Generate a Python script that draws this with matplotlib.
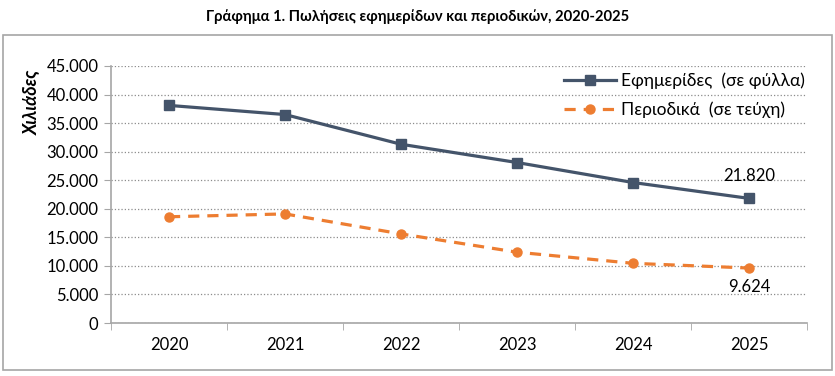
import matplotlib.pyplot as plt
from matplotlib.patches import Rectangle
from matplotlib.ticker import FuncFormatter, FixedLocator

plt.rcParams['font.family'] = ['Lato', 'DejaVu Sans']

years = ['2020', '2021', '2022', '2023', '2024', '2025']
newspapers = [38100, 36500, 31300, 28100, 24600, 21820]
periodicals = [18600, 19100, 15600, 12400, 10450, 9624]
labels = ['Εφημερίδες  (σε φύλλα)', 'Περιοδικά  (σε τεύχη)']

navy = '#44546A'
orange = '#ED7D31'

fig = plt.figure(figsize=(8.35, 3.76), dpi=100)
fig.patches.append(Rectangle((3/835, 1-370/376), 829/835, 335/376, transform=fig.transFigure,
                             fill=False, edgecolor='#A6A6A6', lw=1.2))
ax = fig.add_axes([111/835, 1-323/376, 696/835, 257/376])

x = range(len(years))
ax.plot(x, newspapers, color=navy, lw=2.3, marker='s', ms=6.5, label=labels[0])
ax.plot(x, periodicals, color=orange, lw=2.3, ls=(0, (3.5, 2.5)), marker='o', ms=6.5, label=labels[1])

ax.set_xlim(-0.5, 5.5)
ax.set_ylim(0, 45000)
ax.set_yticks(range(0, 45001, 5000))
ax.yaxis.set_major_formatter(FuncFormatter(lambda v, p: f'{int(v):,}'.replace(',', '.')))
ax.set_xticks(list(x))
ax.set_xticklabels(years)
ax.xaxis.set_minor_locator(FixedLocator([i - 0.5 for i in range(len(years) + 1)]))
ax.tick_params(axis='x', which='major', length=0, pad=10, labelsize=12)
ax.tick_params(axis='x', which='minor', length=5, color='#A6A6A6')
ax.tick_params(axis='y', length=5, color='#A6A6A6', labelsize=12, pad=4)
ax.grid(axis='y', ls=':', color='#8C8C8C', lw=0.9)
ax.set_axisbelow(True)
for s in ['top', 'right']:
    ax.spines[s].set_visible(False)
for s in ['left', 'bottom']:
    ax.spines[s].set_color('#A6A6A6')
    ax.spines[s].set_linewidth(1.2)

ax.annotate(f'{newspapers[-1]:,}'.replace(',', '.'), (5, newspapers[-1]), xytext=(0, 10),
            textcoords='offset points', ha='center', va='bottom', fontsize=12)
ax.annotate(f'{periodicals[-1]:,}'.replace(',', '.'), (5, periodicals[-1]), xytext=(0, -8),
            textcoords='offset points', ha='center', va='top', fontsize=12)

leg = ax.legend(loc='upper right', bbox_to_anchor=(1.02, 1.035), frameon=False, fontsize=12.5,
                handlelength=3.0, handletextpad=0.3, labelspacing=0.7)

fig.text(31/835, 1-102/376, 'Χιλιάδες', rotation=90, ha='center', va='center',
         fontsize=13, fontstyle='italic', fontweight='bold')
fig.text(418/835, 1-17/376, 'Γράφημα 1. Πωλήσεις εφημερίδων και περιοδικών, 2020-2025',
         ha='center', va='center', fontsize=10.6, fontweight='bold')

fig.savefig('out.png', dpi=100)
